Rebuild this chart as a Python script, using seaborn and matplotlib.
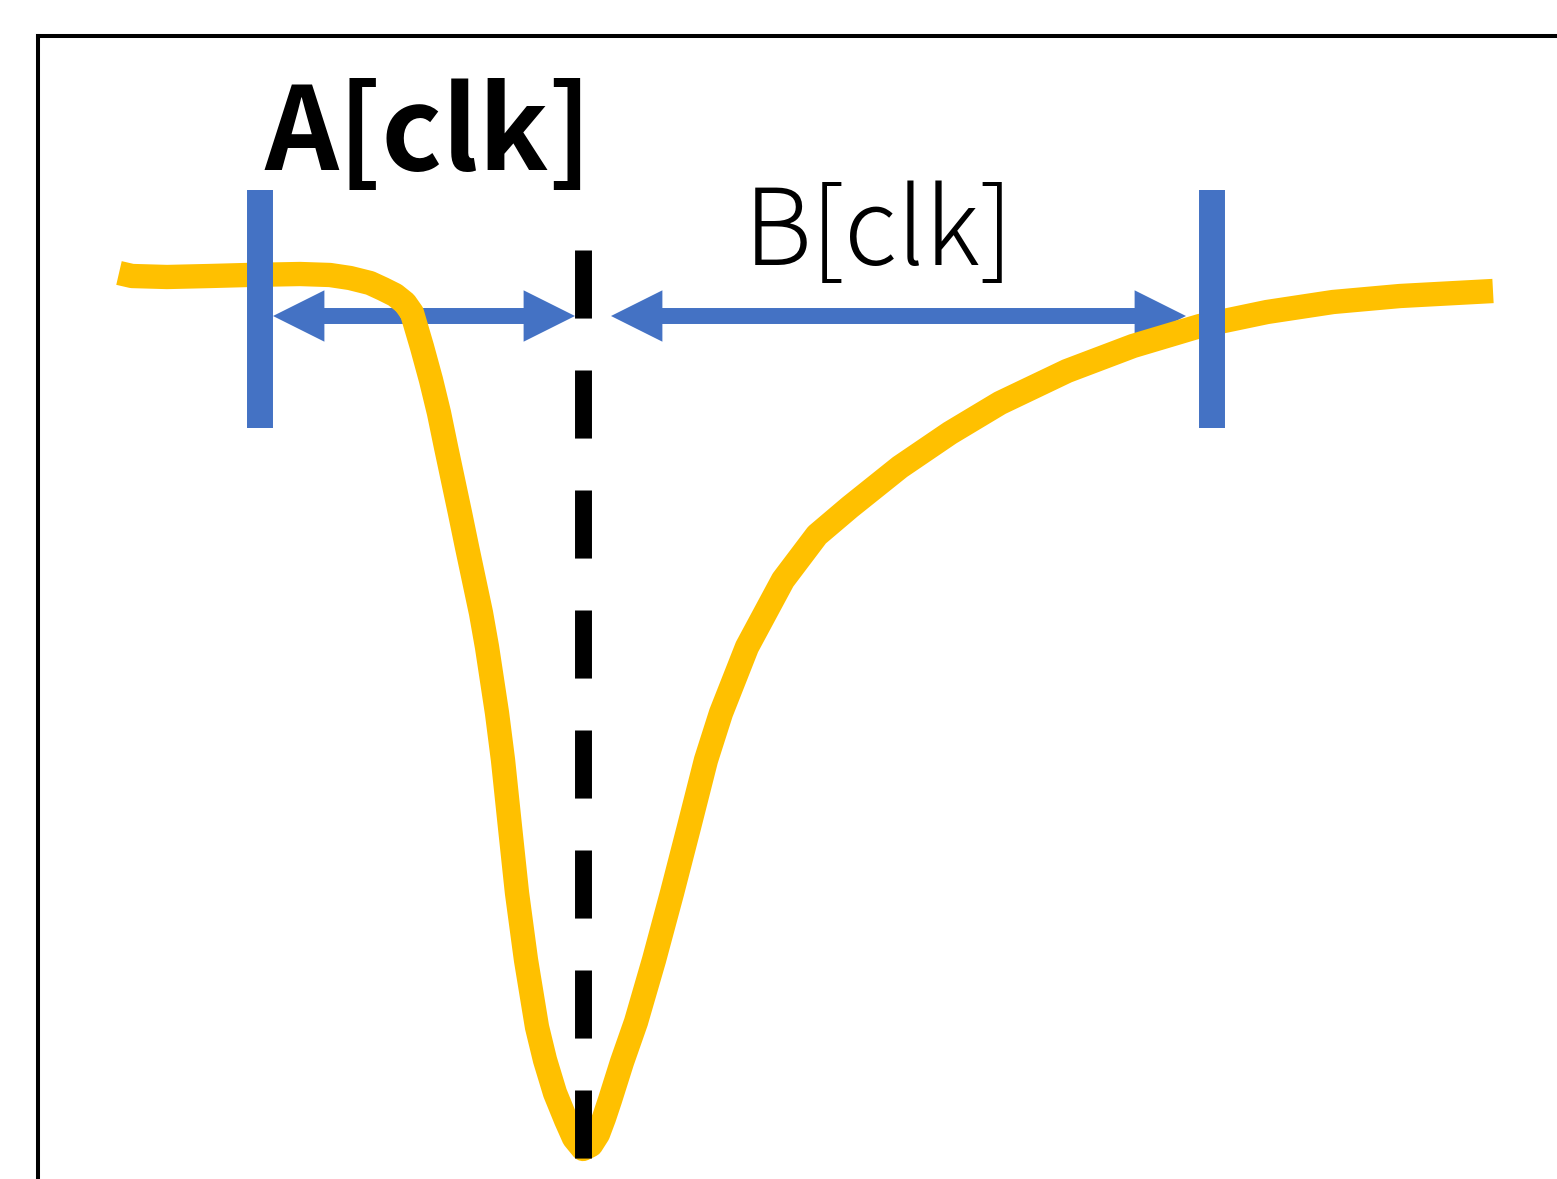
import matplotlib
matplotlib.use("Agg")
import matplotlib.pyplot as plt
import seaborn as sns
from matplotlib.patches import FancyArrowPatch, ArrowStyle

# schematic in pixel-like units, y grows downward
curve_x = [119, 132, 167, 210, 247, 300, 330, 350, 370, 383, 395, 405, 412,
           422, 431, 439, 446, 453, 460, 467, 474, 481, 487, 492, 497, 503,
           510, 517, 526, 537, 545, 555, 566, 574, 583, 591, 598, 604, 610,
           622, 636, 654, 672, 689, 706, 721, 747, 783, 817, 850, 900, 950,
           1000, 1067, 1133, 1200, 1267, 1333, 1400, 1493]
curve_y = [273, 276, 277, 276, 275, 274, 275, 278, 283, 289, 295, 303, 313,
           347, 380, 413, 447, 480, 513, 547, 580, 613, 647, 680, 713, 760,
           827, 893, 960, 1027, 1060, 1093, 1120, 1138, 1149, 1145, 1134, 1118,
           1100, 1062, 1022, 960, 893, 827, 760, 713, 647, 580, 535, 507, 467,
           433, 403, 371, 346, 326, 312, 302, 296, 291]

marker_x = [260, 1212]          # blue bars
marker_span = [190, 428]
dip_x = 583                     # dashed line at minimum
dip_span = [250, 1160]
arrow_y = 316
arrows = [(273, 575), (611, 1186)]
labels = ["A[clk]", "B[clk]"]

yellow = "#FFC000"
blue = "#4472C4"

sns.set_style("white")
plt.rcParams["font.family"] = ["Noto Sans CJK JP", "DejaVu Sans"]
plt.rcParams["lines.scale_dashes"] = False

fig = plt.figure(figsize=(15.57, 11.79), dpi=100)
ax = fig.add_axes([38 / 1557, 0, 1 - 38 / 1557, 1 - 36 / 1179])

sns.lineplot(x=curve_x, y=curve_y, sort=False, estimator=None, ax=ax,
             color=yellow, zorder=3)
curve = ax.lines[-1]
curve.set_linewidth(17.5)
curve.set_solid_capstyle("butt")
curve.set_solid_joinstyle("round")

ax.vlines(marker_x, marker_span[0], marker_span[1], colors=blue,
          linewidth=18.7, zorder=4)
ax.plot([dip_x, dip_x], dip_span, color="black", linewidth=12.2,
        dashes=(49, 37.4), dash_capstyle="butt", zorder=5)

style = ArrowStyle.Simple(head_length=37, head_width=37, tail_width=11.5)
for x0, x1 in arrows:
    mid = (x0 + x1) / 2
    for start, end in [(mid + 1, x0), (mid - 1, x1)]:
        ax.add_patch(FancyArrowPatch((start, arrow_y), (end, arrow_y),
                                     arrowstyle=style, mutation_scale=1,
                                     color=blue, lw=0, shrinkA=0, shrinkB=0,
                                     zorder=2))

ax.text(264, 137, labels[0], fontsize=83, fontweight="bold", color="black",
        ha="left", va="center")
ax.text(744, 235, labels[1], fontsize=76, fontweight="light", color="black",
        ha="left", va="center")

ax.set_xlim(38, 1557)
ax.set_ylim(1179, 36)
ax.set_xticks([])
ax.set_yticks([])
for side in ["right", "bottom"]:
    ax.spines[side].set_visible(False)
for side in ["left", "top"]:
    ax.spines[side].set_linewidth(2.9)
    ax.spines[side].set_color("black")

fig.savefig("out.png", dpi=100)
